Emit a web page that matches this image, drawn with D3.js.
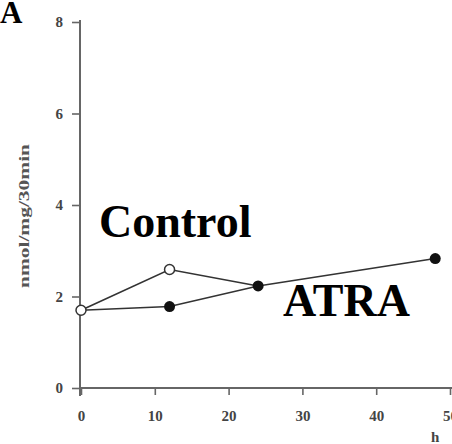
<!DOCTYPE html>
<html><head><meta charset="utf-8">
<script src="https://cdn.jsdelivr.net/npm/d3@7"></script>
<style>body{margin:0;background:#fff}svg{display:block}</style>
</head><body>
<script>
const xTicks = [0,10,20,30,40,50];
const yTicks = [0,2,4,6,8];
const controlX = [0,12,24];
const controlY = [1.70,2.59,2.23];
const atraX = [0,12,24,48];
const atraY = [1.70,1.78,2.23,2.83];

const W=452,H=444;
const svg=d3.select("body").append("svg").attr("width",W).attr("height",H);
const x=d3.scaleLinear().domain([0,50]).range([81,450]);
const y=d3.scaleLinear().domain([0,8]).range([388,22]);
const axisColor="#666";
const serif="'Liberation Serif','Times New Roman',serif";

// axes
const gx=svg.append("g").attr("transform","translate(0,388)")
  .call(d3.axisBottom(x).tickValues(xTicks).tickSize(7).tickPadding(15).tickSizeOuter(0));
gx.select(".domain").attr("d","M80,0H452");
const gy=svg.append("g").attr("transform","translate(80,0)")
  .call(d3.axisLeft(y).tickValues(yTicks).tickSize(8).tickPadding(9).tickSizeOuter(0));
gy.select(".domain").attr("d","M0,20V396");
svg.selectAll(".domain").attr("stroke",axisColor).attr("stroke-width",2);
svg.selectAll(".tick line").attr("stroke",axisColor).attr("stroke-width",1.6);
svg.selectAll(".tick text").attr("font-family",serif).attr("font-weight","bold")
  .attr("font-size",15).attr("fill","#444");

// axis labels
svg.append("text").attr("transform","translate(29,216) rotate(-90)")
  .attr("text-anchor","middle").attr("font-family",serif).attr("font-size",14)
  .attr("font-weight","bold").attr("fill","#555")
  .attr("textLength",144).attr("lengthAdjust","spacingAndGlyphs").text("nmol/mg/30min");
svg.append("text").attr("x",431).attr("y",442).attr("font-family",serif)
  .attr("font-weight","bold").attr("font-size",15).attr("fill","#444").text("h");

// lines
const line=d3.line().x(d=>x(d[0])).y(d=>y(d[1]));
const atra=atraX.map((v,i)=>[v,atraY[i]]);
const ctrl=controlX.map((v,i)=>[v,controlY[i]]);
svg.append("path").datum(atra).attr("d",line).attr("fill","none").attr("stroke","#333").attr("stroke-width",1.6);
svg.append("path").datum(ctrl).attr("d",line).attr("fill","none").attr("stroke","#333").attr("stroke-width",1.6);
svg.selectAll("circle.atra").data(atra.slice(1)).join("circle").attr("class","atra")
  .attr("cx",d=>x(d[0])).attr("cy",d=>y(d[1])).attr("r",5.5).attr("fill","#111");
svg.selectAll("circle.ctrl").data(ctrl.slice(0,2)).join("circle").attr("class","ctrl")
  .attr("cx",d=>x(d[0])).attr("cy",d=>y(d[1])).attr("r",5).attr("fill","#fff")
  .attr("stroke","#333").attr("stroke-width",1.5);

// labels
svg.append("text").attr("x",0).attr("y",23).attr("font-family",serif).attr("font-weight","bold")
  .attr("font-size",31).text("A");
svg.append("text").attr("x",99).attr("y",237).attr("font-family",serif).attr("font-weight","bold")
  .attr("font-size",46).text("Control");
svg.append("text").attr("x",283).attr("y",316).attr("font-family",serif).attr("font-weight","bold")
  .attr("font-size",46).text("ATRA");
</script>
</body></html>
